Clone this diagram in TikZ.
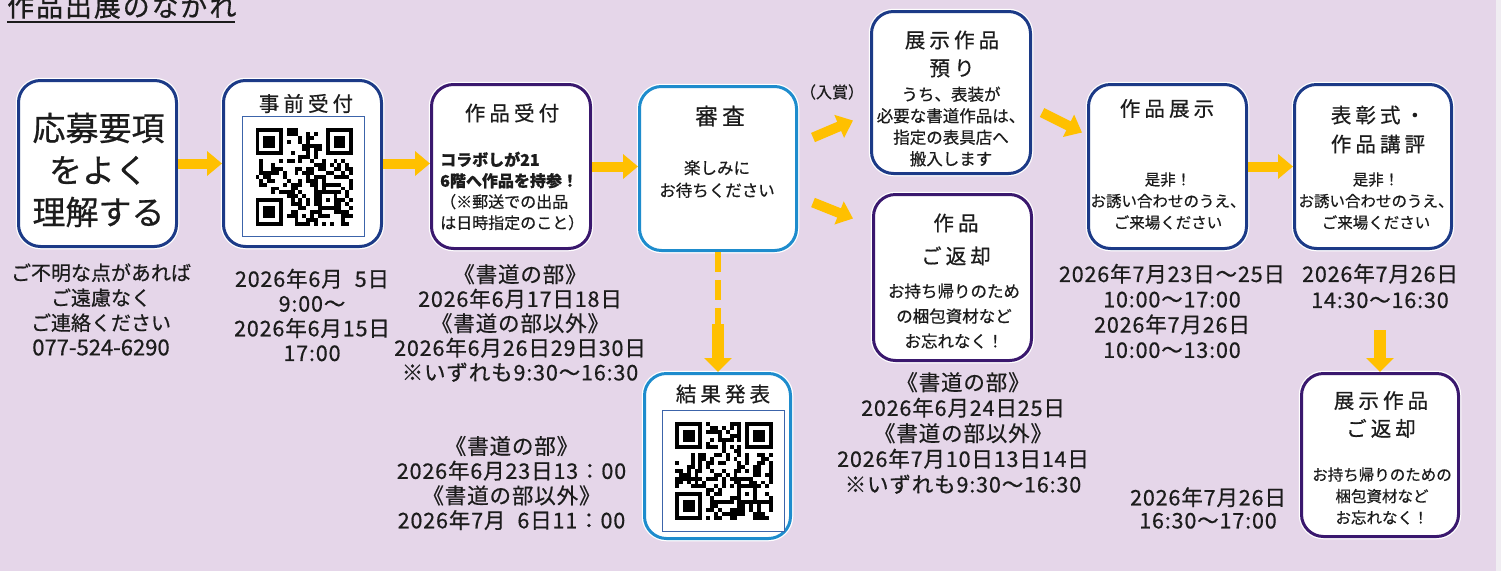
\documentclass[tikz,border=0pt]{standalone}
\usepackage{fontspec}
\setmainfont{Noto Sans CJK JP}[FakeBold=0.6]
\newfontfamily\headfont{Noto Sans CJK JP}[LetterSpace=20,FakeBold=0.6]
\newfontfamily\notefont{Noto Sans CJK JP}[LetterSpace=4,FakeBold=0.6]
\usetikzlibrary{arrows.meta,calc}
\definecolor{bg}{RGB}{229,214,233}
\definecolor{strip}{RGB}{240,237,242}
\definecolor{bdark}{RGB}{28,58,135}
\definecolor{bpurple}{RGB}{58,24,110}
\definecolor{blight}{RGB}{30,140,205}
\definecolor{qrcol}{RGB}{60,100,170}
\definecolor{ayellow}{RGB}{255,192,0}
\definecolor{txt}{RGB}{28,28,28}
\newcommand\setfs[2]{\fontsize{#1}{#2}\selectfont}
\newcommand\qrpattern[3]{%
  \begin{scope}[shift={(#1,#2)},x=3.9pt,y=-3.9pt]
    \pgfmathsetseed{#3}
    \foreach \i in {0,...,24}{\foreach \j in {0,...,24}{%
      \pgfmathtruncatemacro\q{((\i<8 && \j<8) || (\i>16 && \j<8) || (\i<8 && \j>16)) ? 0 : (rnd<0.47 ? 1 : 0)}%
      \ifnum\q=1 \fill[black] (\i,\j) rectangle ++(1,1);\fi
    }}
    \foreach \a/\b in {0/0,18/0,0/18}{
      \fill[white] (\a-0.02,\b-0.02) rectangle ++(7.04,7.04);
      \fill[black] (\a,\b) rectangle ++(7,7);
      \fill[white] (\a+1,\b+1) rectangle ++(5,5);
      \fill[black] (\a+2,\b+2) rectangle ++(3,3);
    }
    \fill[white] (16,16) rectangle ++(5,5);
    \fill[black] (16,16) rectangle ++(5,5);
    \fill[white] (17,17) rectangle ++(3,3);
    \fill[black] (18,18) rectangle ++(1,1);
  \end{scope}}
\begin{document}
\begin{tikzpicture}[x=1pt,y=-1pt,
  box/.style={draw, line width=3pt, rounded corners=22pt, fill=white, inner sep=0pt,
    preaction={draw=white, line width=5.5pt}},
  qrf/.style={draw=qrcol, line width=1.5pt, fill=white, inner sep=0pt},
  txtc/.style={align=center, inner sep=0pt, text=txt},
  head/.style={txtc, font=\headfont\setfs{20.5}{28}},
  note/.style={txtc, font=\notefont\setfs{21.5}{#1}},
  yarrow/.style={draw=ayellow, line width=10pt, -{Triangle[width=24pt,length=15pt]}},
  varrow/.style={draw=ayellow, line width=12pt, -{Triangle[width=27pt,length=14pt]}},
  dashline/.style={draw=ayellow, line width=6pt, dash pattern=on 20pt off 8pt}
]
\useasboundingbox (0,0) rectangle (1501,571);
\fill[bg] (0,0) rectangle (1501,571);
\fill[strip] (1496,0) rectangle (1501,571);

% title
\node[anchor=base west, inner sep=0pt, text=txt, font={\setfs{27}{30}\addfontfeature{LetterSpace=7}}] (title) at (7,16.5) {作品出展のながれ};
\draw[txt, line width=2pt] ($(title.base west)+(0,5.5)$) -- ($(title.base east)+(-2,5.5)$);

% boxes
\node[box, draw=bdark, minimum width=158, minimum height=166] (b1) at (97.5,163.5) {};
\node[box, draw=bdark, minimum width=158, minimum height=166] (b2) at (302.5,163.5) {};
\node[box, draw=bpurple, minimum width=159, minimum height=164] (b3) at (511,166.5) {};
\node[box, draw=blight, minimum width=157, minimum height=164] (b4) at (718,168.5) {};
\node[box, draw=blight, minimum width=146, minimum height=165] (b10) at (717.5,456) {};
\node[box, draw=bdark, minimum width=159, minimum height=162] (b5) at (951,92.5) {};
\node[box, draw=bpurple, minimum width=158, minimum height=166] (b6) at (952.5,277.5) {};
\node[box, draw=bdark, minimum width=158, minimum height=164] (b7) at (1167.5,166.5) {};
\node[box, draw=bdark, minimum width=157, minimum height=164] (b8) at (1373,166.5) {};
\node[box, draw=bpurple, minimum width=157, minimum height=163] (b9) at (1380,455) {};

% QR frames and codes
\node[qrf, minimum width=122, minimum height=120] (qf1) at (303.5,176.5) {};
\node[qrf, minimum width=122, minimum height=121] (qf2) at (723.5,471) {};
\qrpattern{255.5}{128}{42}
\qrpattern{675}{422}{7}

% box texts
\node[txtc, font=\setfs{33}{42}] (t1) at (98.5,170) {応募要項\\をよく\\理解する};
\node[head] (h2) at (306,103.5) {事前受付};
\node[head] (h3) at (512,113) {作品受付};
\node[inner sep=0pt, align=left, anchor=west, text=txt, font=\setfs{16}{21}] (t3) at (440,191)
  {{\bfseries コラボしが21}\\{\bfseries 6階へ作品を持参！}\\（※郵送での出品\\は日時指定のこと）};
\node[txtc, font=\headfont\setfs{22.5}{28}] (h4) at (720,116) {審査};
\node[txtc, font=\setfs{16.5}{22.5}] (t4) at (717,179) {楽しみに\\お待ちください};
\node[head] (h10) at (723,394) {結果発表};
\node[head] (h5) at (952,54) {展示作品\\預り};
\node[txtc, font=\setfs{16.5}{21.5}] (t5) at (951,126.5) {うち、表装が\\必要な書道作品は、\\指定の表具店へ\\搬入します};
\node[txtc, font=\headfont\setfs{20.5}{33}] (h6) at (956,239.5) {作品\\ご返却};
\node[txtc, font=\setfs{16.5}{25}] (t6) at (954,316) {お持ち帰りのため\\の梱包資材など\\お忘れなく！};
\node[head] (h7) at (1167,108.5) {作品展示};
\node[txtc, font=\setfs{15.5}{21.5}] (t7) at (1168,201) {是非！\\お誘い合わせのうえ、\\ご来場ください};
\node[txtc, font=\headfont\setfs{20.5}{29}] (h8) at (1378,129.5) {表彰式・\\作品講評};
\node[txtc, font=\setfs{15.5}{21.5}] (t8) at (1376,201) {是非！\\お誘い合わせのうえ、\\ご来場ください};
\node[head] (h9) at (1381,414.5) {展示作品\\ご返却};
\node[txtc, font=\setfs{15.5}{21.5}] (t9) at (1382,496) {お持ち帰りのための\\梱包資材など\\お忘れなく！};

% notes
\node[txtc, font=\setfs{20}{25}] (n1) at (101,309.5) {ご不明な点があれば\\ご遠慮なく\\ご連絡ください\\{\setfs{22}{25}077-524-6290}};
\node[note=24.7] (n2) at (312,315) {2026年6月\hphantom{1}5日\\9:00～\\2026年6月15日\\17:00};
\node[note=24.5] (n3) at (520,323) {《書道の部》\\2026年6月17日18日\\《書道の部以外》\\2026年6月26日29日30日\\※いずれも9:30～16:30};
\node[note=24.7] (n4) at (511.5,483) {《書道の部》\\2026年6月23日13：00\\《書道の部以外》\\2026年7月\hphantom{2}6日11：00};
\node[note=25.5] (n5) at (963,433) {《書道の部》\\2026年6月24日25日\\《書道の部以外》\\2026年7月10日13日14日\\※いずれも9:30～16:30};
\node[note=25.3] (n6) at (1172,311) {2026年7月23日～25日\\10:00～17:00\\2026年7月26日\\10:00～13:00};
\node[note=26] (n7) at (1380,286) {2026年7月26日\\14:30～16:30};
\node[note=23] (n8) at (1208,508) {2026年7月26日\\16:30～17:00};
\node[txtc, font=\setfs{16}{20}] (prize) at (832,92) {（入賞）};

% arrows
\draw[yarrow] (b1.east) -- (b1.east -| b2.west);
\draw[yarrow] (b2.east) -- (b2.east -| b3.west);
\draw[yarrow] (b3.east) -- (b3.east -| b4.west);
\draw[yarrow] ($(b4.east)+(15,-31)$) -- ($(b5.west)+(-17,28)$);
\draw[yarrow] ($(b4.east)+(15,34)$) -- ($(b6.west)+(-19,-59)$);
\draw[yarrow] ($(b5.east)+(10,20)$) -- ($(b7.west)+(-5,-34)$);
\draw[yarrow] (b7.east) -- (b7.east -| b8.west);
\draw[varrow] ($(b9.north)+(0,-42)$) -- (b9.north);
\draw[dashline] (b4.south) -- ($(b4.south)+(0,72)$);
\draw[varrow] ($(b4.south)+(0,72)$) -- (b4.south |- b10.north);
\end{tikzpicture}
\end{document}
